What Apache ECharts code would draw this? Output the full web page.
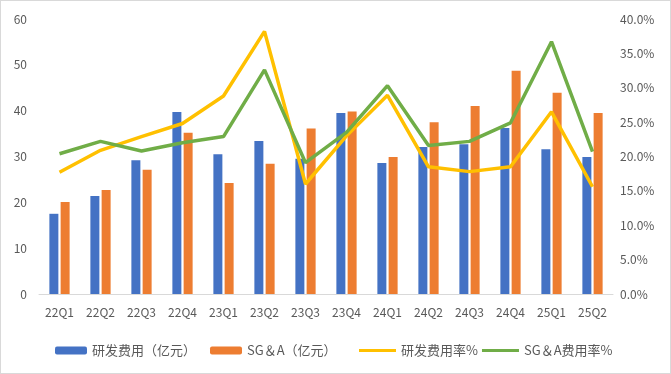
<!DOCTYPE html>
<html>
<head>
<meta charset="utf-8">
<script src="https://cdn.jsdelivr.net/npm/echarts@6/dist/echarts.min.js"></script>
<style>
html,body{margin:0;padding:0;background:#fff;}
#c{position:absolute;left:0;top:0;width:671px;height:374px;}
#b{position:absolute;left:0;top:0;width:671px;height:374px;box-sizing:border-box;border:1px solid #d9d9d9;pointer-events:none;}
</style>
</head>
<body>
<div id="c"></div>
<div id="b"></div>
<script>
const categories = ['22Q1','22Q2','22Q3','22Q4','23Q1','23Q2','23Q3','23Q4','24Q1','24Q2','24Q3','24Q4','25Q1','25Q2'];
const rdExpense = [17.5, 21.4, 29.2, 39.7, 30.5, 33.4, 29.5, 39.5, 28.6, 32.1, 32.7, 36.2, 31.6, 29.9];
const sgaExpense = [20.1, 22.7, 27.1, 35.2, 24.2, 28.4, 36.1, 39.8, 29.9, 37.5, 41.0, 48.7, 43.9, 39.5];
const rdRate = [17.7, 20.9, 22.9, 24.8, 28.8, 38.2, 16.0, 23.0, 28.9, 18.5, 17.8, 18.5, 26.5, 15.6];
const sgaRate = [20.4, 22.2, 20.8, 22.0, 22.9, 32.6, 19.1, 23.5, 30.3, 21.6, 22.2, 24.9, 36.7, 20.7];
const names = ['研发费用（亿元）', 'SG＆A（亿元）', '研发费用率%', 'SG＆A费用率%'];

const font = "'Noto Sans CJK SC', 'Microsoft YaHei', sans-serif";
const txt = '#595959';
const chart = echarts.init(document.getElementById('c'), null, {renderer: 'canvas'});
chart.setOption({
  animation: false,
  textStyle: {fontFamily: font},
  grid: {left: 39, right: 58, top: 19, bottom: 80},
  legend: [
    {data: [names[0], names[1]], left: 50, top: 339, itemWidth: 32, itemHeight: 8, itemGap: 14,
     textStyle: {color: txt, fontSize: 13, fontFamily: font}},
    {data: [names[2], names[3]], left: 354, top: 339, itemWidth: 37, itemHeight: 3, itemGap: 4, icon: 'rect',
     textStyle: {color: txt, fontSize: 13, fontFamily: font}}
  ],
  xAxis: {
    type: 'category', data: categories,
    axisLine: {lineStyle: {color: '#d9d9d9', width: 1}},
    axisTick: {show: false},
    axisLabel: {color: txt, fontSize: 12, margin: 12, fontFamily: font}
  },
  yAxis: [
    {type: 'value', min: 0, max: 60, interval: 10,
     splitLine: {show: false}, axisLine: {show: false}, axisTick: {show: false},
     axisLabel: {color: txt, fontSize: 12, margin: 12, fontFamily: font}},
    {type: 'value', min: 0, max: 40, interval: 5, position: 'right',
     splitLine: {show: false}, axisLine: {show: false}, axisTick: {show: false},
     axisLabel: {color: txt, fontSize: 12, margin: 7, fontFamily: font,
       formatter: v => v.toFixed(1) + '%'}}
  ],
  series: [
    {name: names[0], type: 'bar', data: rdExpense, barWidth: 9, barGap: '25%',
     itemStyle: {color: '#4472C4'}},
    {name: names[1], type: 'bar', data: sgaExpense, barWidth: 9,
     itemStyle: {color: '#ED7D31'}},
    {name: names[2], type: 'line', yAxisIndex: 1, data: rdRate, showSymbol: false, symbol: 'none',
     lineStyle: {color: '#FFC000', width: 3.5}, itemStyle: {color: '#FFC000'}},
    {name: names[3], type: 'line', yAxisIndex: 1, data: sgaRate, showSymbol: false, symbol: 'none',
     lineStyle: {color: '#70AD47', width: 3.5}, itemStyle: {color: '#70AD47'}}
  ]
});
</script>
</body>
</html>
